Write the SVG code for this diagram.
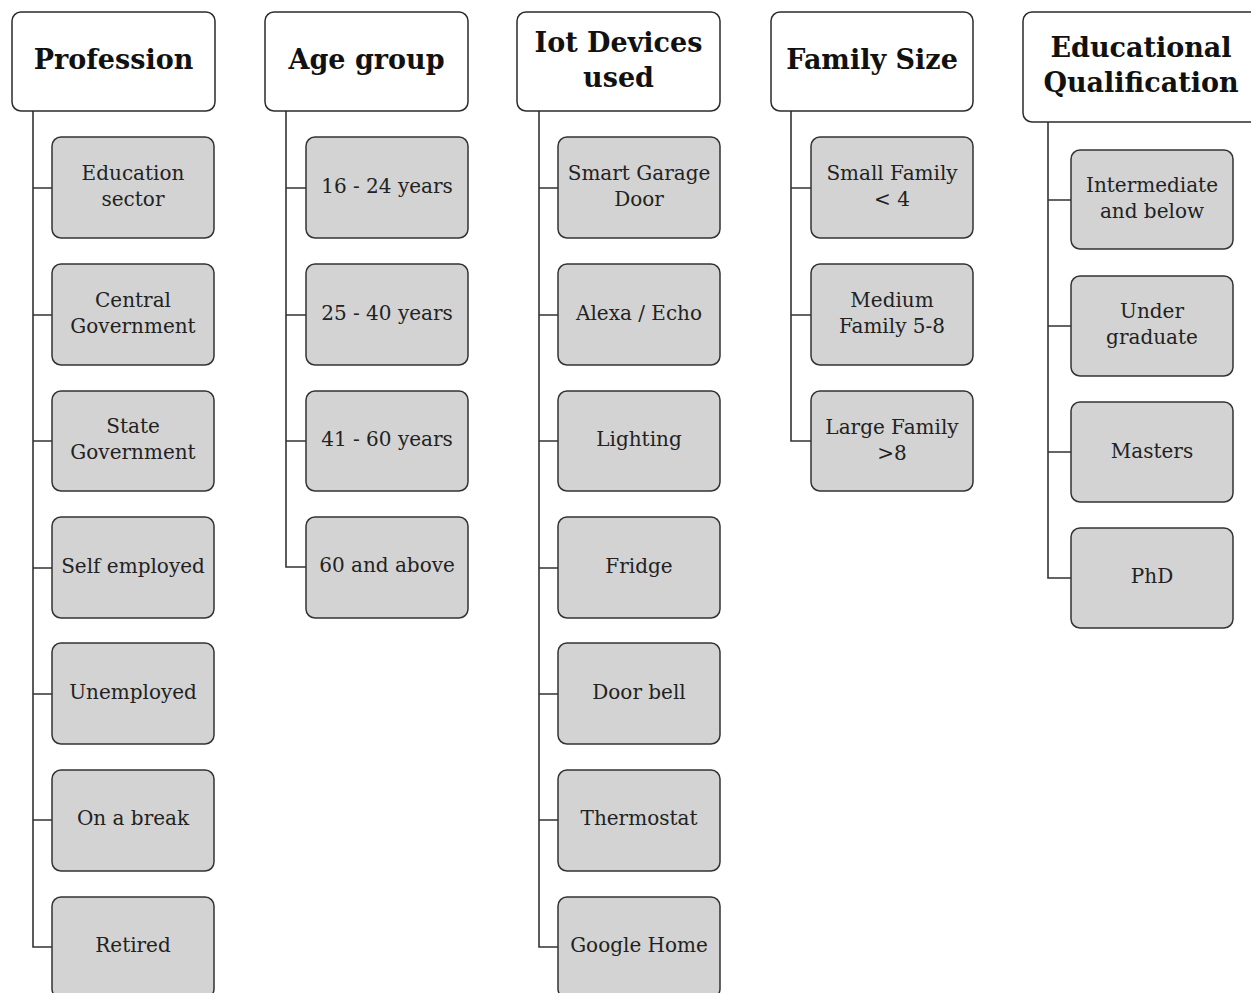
<svg xmlns="http://www.w3.org/2000/svg" width="1251" height="993" viewBox="0 0 1251 993">
<style>
.hdr{fill:#ffffff;stroke:#2b2b2b;stroke-width:1.5}
.box{fill:#d3d3d3;stroke:#333333;stroke-width:1.5}
.ht{font-family:"DejaVu Serif","Liberation Serif",serif;font-weight:bold;font-size:27px;fill:#111;text-anchor:middle}
.bt{font-family:"DejaVu Serif","Liberation Serif",serif;font-size:20px;fill:#222;text-anchor:middle}
.con{fill:none;stroke:#333333;stroke-width:1.6}
</style>
<rect width="1251" height="993" fill="#ffffff"/>
<g id="connectors">
<path class="con" d="M33,111 V947 H52 M33,188 H52 M33,315 H52 M33,441 H52 M33,568 H52 M33,694 H52 M33,820 H52"/>
<path class="con" d="M286,111 V567 H306 M286,188 H306 M286,315 H306 M286,441 H306"/>
<path class="con" d="M539,111 V947 H558 M539,188 H558 M539,315 H558 M539,441 H558 M539,568 H558 M539,694 H558 M539,820 H558"/>
<path class="con" d="M791,111 V441 H811 M791,188 H811 M791,315 H811"/>
<path class="con" d="M1048,122 V578 H1071 M1048,200 H1071 M1048,326 H1071 M1048,452 H1071"/>
</g>
<g id="h-profession"><rect class="hdr" x="12" y="12" width="203" height="99" rx="9"/><text class="ht" x="113.5" y="69">Profession</text></g>
<g id="h-age"><rect class="hdr" x="265" y="12" width="203" height="99" rx="9"/><text class="ht" x="366.5" y="69">Age group</text></g>
<g id="h-iot"><rect class="hdr" x="517" y="12" width="203" height="99" rx="9"/><text class="ht" x="618.5" y="52">Iot Devices</text><text class="ht" x="618.5" y="87">used</text></g>
<g id="h-family"><rect class="hdr" x="771" y="12" width="202" height="99" rx="9"/><text class="ht" x="872" y="69">Family Size</text></g>
<g id="h-edu"><rect class="hdr" x="1023" y="12" width="240" height="110" rx="9"/><text class="ht" x="1141" y="57">Educational</text><text class="ht" x="1141" y="92">Qualification</text></g>

<g id="p1"><rect class="box" x="52" y="137" width="162" height="101" rx="9"/><text class="bt" x="133" y="180">Education</text><text class="bt" x="133" y="206">sector</text></g>
<g id="p2"><rect class="box" x="52" y="264" width="162" height="101" rx="9"/><text class="bt" x="133" y="307">Central</text><text class="bt" x="133" y="333">Government</text></g>
<g id="p3"><rect class="box" x="52" y="391" width="162" height="100" rx="9"/><text class="bt" x="133" y="433">State</text><text class="bt" x="133" y="459">Government</text></g>
<g id="p4"><rect class="box" x="52" y="517" width="162" height="101" rx="9"/><text class="bt" x="133" y="573">Self employed</text></g>
<g id="p5"><rect class="box" x="52" y="643" width="162" height="101" rx="9"/><text class="bt" x="133" y="699">Unemployed</text></g>
<g id="p6"><rect class="box" x="52" y="770" width="162" height="101" rx="9"/><text class="bt" x="133" y="825">On a break</text></g>
<g id="p7"><rect class="box" x="52" y="897" width="162" height="101" rx="9"/><text class="bt" x="133" y="952">Retired</text></g>

<g id="a1"><rect class="box" x="306" y="137" width="162" height="101" rx="9"/><text class="bt" x="387" y="193">16 - 24 years</text></g>
<g id="a2"><rect class="box" x="306" y="264" width="162" height="101" rx="9"/><text class="bt" x="387" y="320">25 - 40 years</text></g>
<g id="a3"><rect class="box" x="306" y="391" width="162" height="100" rx="9"/><text class="bt" x="387" y="446">41 - 60 years</text></g>
<g id="a4"><rect class="box" x="306" y="517" width="162" height="101" rx="9"/><text class="bt" x="387" y="572">60 and above</text></g>

<g id="i1"><rect class="box" x="558" y="137" width="162" height="101" rx="9"/><text class="bt" x="639" y="180">Smart Garage</text><text class="bt" x="639" y="206">Door</text></g>
<g id="i2"><rect class="box" x="558" y="264" width="162" height="101" rx="9"/><text class="bt" x="639" y="320">Alexa / Echo</text></g>
<g id="i3"><rect class="box" x="558" y="391" width="162" height="100" rx="9"/><text class="bt" x="639" y="446">Lighting</text></g>
<g id="i4"><rect class="box" x="558" y="517" width="162" height="101" rx="9"/><text class="bt" x="639" y="573">Fridge</text></g>
<g id="i5"><rect class="box" x="558" y="643" width="162" height="101" rx="9"/><text class="bt" x="639" y="699">Door bell</text></g>
<g id="i6"><rect class="box" x="558" y="770" width="162" height="101" rx="9"/><text class="bt" x="639" y="825">Thermostat</text></g>
<g id="i7"><rect class="box" x="558" y="897" width="162" height="101" rx="9"/><text class="bt" x="639" y="952">Google  Home</text></g>

<g id="f1"><rect class="box" x="811" y="137" width="162" height="101" rx="9"/><text class="bt" x="892" y="180">Small Family</text><text class="bt" x="892" y="206">&lt; 4</text></g>
<g id="f2"><rect class="box" x="811" y="264" width="162" height="101" rx="9"/><text class="bt" x="892" y="307">Medium</text><text class="bt" x="892" y="333">Family 5-8</text></g>
<g id="f3"><rect class="box" x="811" y="391" width="162" height="100" rx="9"/><text class="bt" x="892" y="434">Large Family</text><text class="bt" x="892" y="460">&gt;8</text></g>

<g id="e1"><rect class="box" x="1071" y="150" width="162" height="99" rx="9"/><text class="bt" x="1152" y="192">Intermediate</text><text class="bt" x="1152" y="218">and below</text></g>
<g id="e2"><rect class="box" x="1071" y="276" width="162" height="100" rx="9"/><text class="bt" x="1152" y="318">Under</text><text class="bt" x="1152" y="344">graduate</text></g>
<g id="e3"><rect class="box" x="1071" y="402" width="162" height="100" rx="9"/><text class="bt" x="1152" y="458">Masters</text></g>
<g id="e4"><rect class="box" x="1071" y="528" width="162" height="100" rx="9"/><text class="bt" x="1152" y="583">PhD</text></g>
</svg>
